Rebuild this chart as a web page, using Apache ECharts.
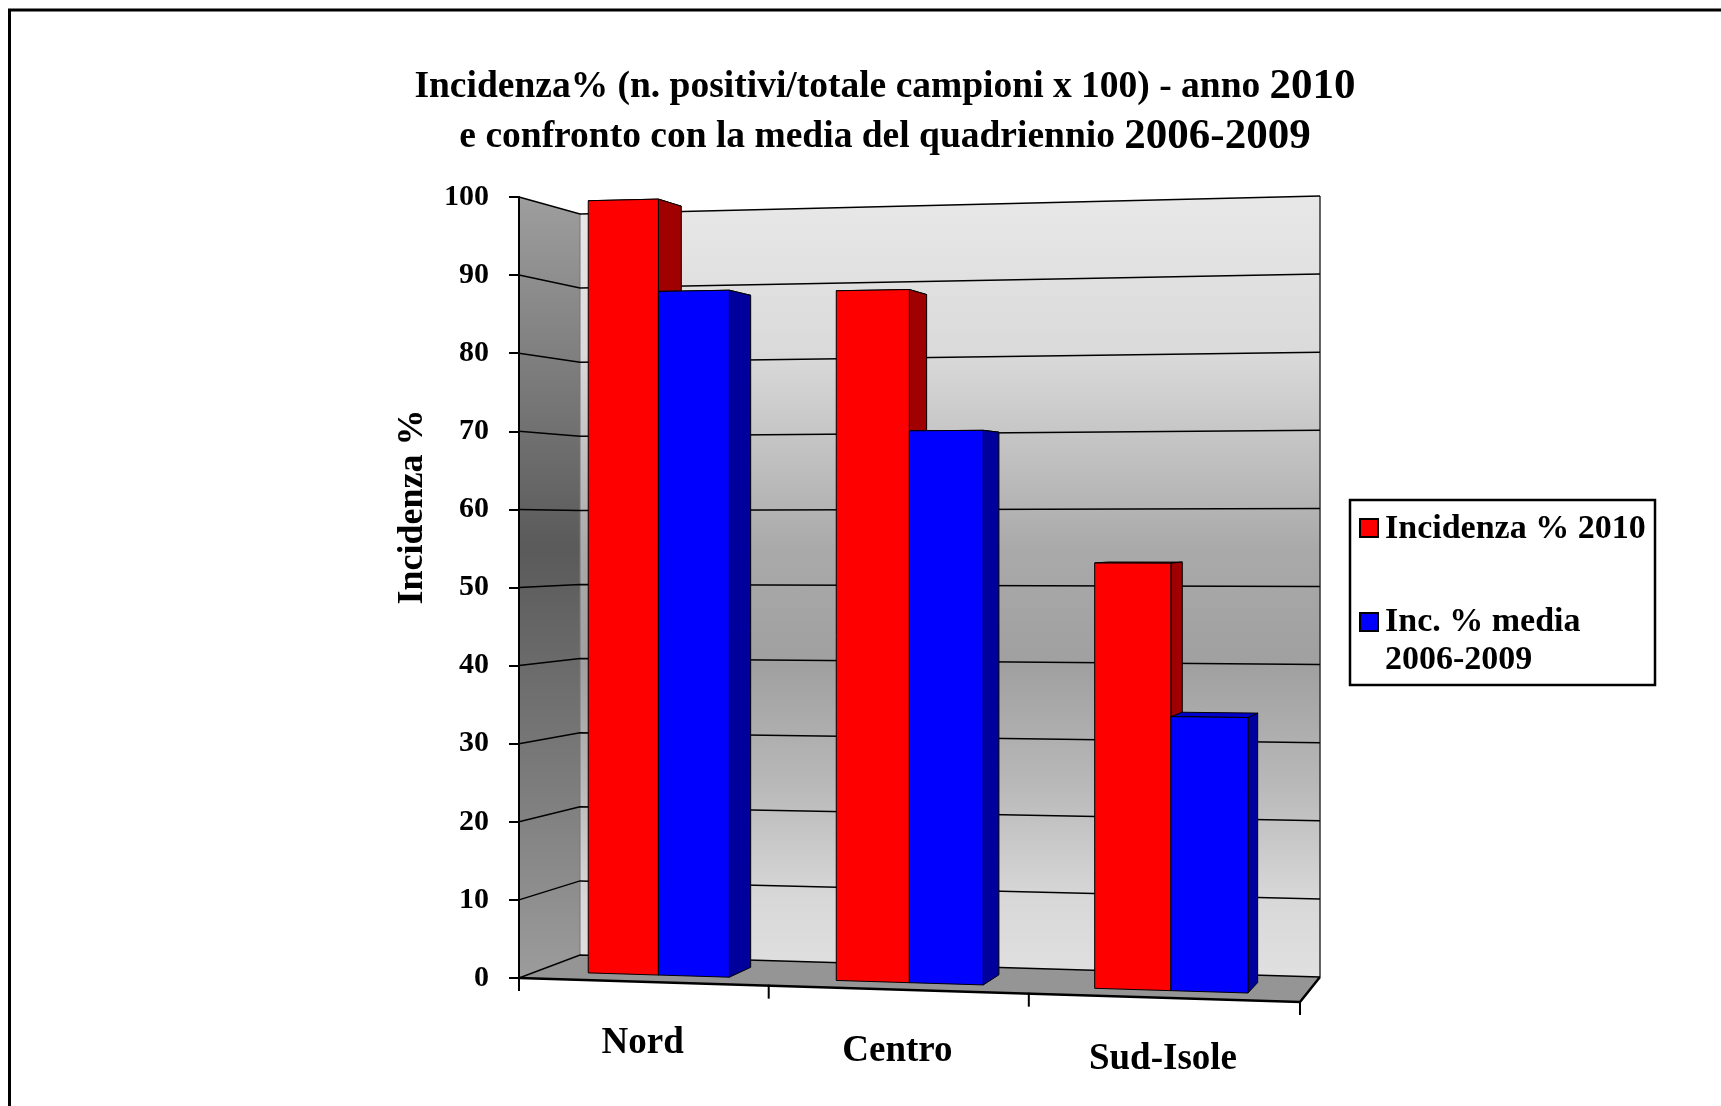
<!DOCTYPE html>
<html><head><meta charset="utf-8">
<script src="https://cdn.jsdelivr.net/npm/echarts@6/dist/echarts.min.js"></script>
<style>html,body{margin:0;padding:0;background:#fff}#c{width:1721px;height:1106px}</style>
</head><body><div id="c"></div>
<script>
// ---- data ----
const categories = ['Nord', 'Centro', 'Sud-Isole'];
const seriesNames = ['Incidenza % 2010', 'Inc. % media\n2006-2009'];
const incidenza2010 = [100, 87.8, 53.2];
const mediaQuadriennio = [88.1, 69.9, 34.1];
const yTicks = [0, 10, 20, 30, 40, 50, 60, 70, 80, 90, 100];
const titleLines = ['Incidenza% (n. positivi/totale campioni x 100) - anno ', '2010', 'e confronto con la media del quadriennio ', '2006-2009'];

// ---- styling ----
const FONT = '"Liberation Serif", "Times New Roman", serif';
const PERSP = { riseB: 24, riseT: 18, dxL: 61, dxR: 20, dbL: 23, dbR: 25, dt: 17, warp: 0.94 };
const BAR_FRAC = 0.287, D0 = 0.29, D1 = 0.71;
const COLORS = [
  { front: '#ff0000', side: '#a00000', top: '#cc0000' },
  { front: '#0000ff', side: '#00009c', top: '#0000cc' }
];

function lerp(a, b, t) { return [a[0] + (b[0] - a[0]) * t, a[1] + (b[1] - a[1]) * t]; }
function projector(G) {
  const L = G.x, R = G.x + G.width, T = G.y, B = G.y + G.height;
  const FLB = [L, B], FLT = [L, T], FRB = [R, B + PERSP.riseB], FRT = [R, T - PERSP.riseT];
  const BLB = [L + PERSP.dxL, B - PERSP.dbL], BLT = [L + PERSP.dxL, T + PERSP.dt];
  const BRB = [R + PERSP.dxR, B + PERSP.riseB - PERSP.dbR], BRT = [R + PERSP.dxR, T - PERSP.riseT + PERSP.dt];
  return function (u, v, d) {
    const a = PERSP.warp; const fu = a * u / (1 + (a - 1) * u);
    const f = lerp(lerp(FLB, FRB, fu), lerp(FLT, FRT, fu), v);
    const b = lerp(lerp(BLB, BRB, fu), lerp(BLT, BRT, fu), v);
    return lerp(f, b, d);
  };
}

const leftGrad = { type: 'linear', x: 0, y: 0, x2: 0, y2: 1, colorStops: [
  { offset: 0, color: '#9e9e9e' }, { offset: 0.45, color: '#5a5a5a' }, { offset: 0.75, color: '#7c7c7c' }, { offset: 1, color: '#9c9c9c' }] };
const backGrad = { type: 'linear', x: 0, y: 0, x2: 0, y2: 1, colorStops: [
  { offset: 0, color: '#e8e8e8' }, { offset: 0.2, color: '#dadada' }, { offset: 0.45, color: '#aaaaaa' },
  { offset: 0.6, color: '#a0a0a0' }, { offset: 0.75, color: '#b8b8b8' }, { offset: 0.9, color: '#d8d8d8' }, { offset: 1, color: '#e0e0e0' }] };

function renderWalls(params, api) {
  const G = params.coordSys; const P = projector(G);
  const vOf = t => (G.y + G.height - api.coord([0, t])[1]) / G.height;
  const ch = [];
  ch.push({ type: 'polygon', shape: { points: [P(0, 0, 0), P(0, 1, 0), P(0, 1, 1), P(0, 0, 1)] }, style: { fill: leftGrad } });
  ch.push({ type: 'polygon', shape: { points: [P(0, 0, 1), P(0, 1, 1), P(1, 1, 1), P(1, 0, 1)] }, style: { fill: backGrad } });
  ch.push({ type: 'polygon', shape: { points: [P(0, 0, 0), P(0, 0, 1), P(1, 0, 1), P(1, 0, 0)] }, style: { fill: '#959595' } });
  ch.push({ type: 'polyline', shape: { points: [P(0, 0, 1), P(0, 1, 1)] }, style: { stroke: '#777', lineWidth: 1, fill: 'none' } });
  ch.push({ type: 'polyline', shape: { points: [P(1, 0, 1), P(1, 1, 1)] }, style: { stroke: '#333', lineWidth: 1.5, fill: 'none' } });
  yTicks.forEach(t => {
    const v = vOf(t);
    ch.push({ type: 'polyline', shape: { points: [P(0, v, 0), P(0, v, 1), P(1, v, 1)] }, style: { stroke: '#000', lineWidth: 1.5, fill: 'none' } });
  });
  ch.push({ type: 'polyline', shape: { points: [P(0, 0, 0), P(1, 0, 0), P(1, 0, 1)] }, style: { stroke: '#000', lineWidth: 2.5, fill: 'none' } });
  const band = api.size([1, 0])[0];
  for (let k = 0; k <= categories.length; k++) {
    const x = api.coord([Math.min(k, categories.length - 1), 0])[0] + (k < categories.length ? -band / 2 : band / 2);
    const u = (x - G.x) / G.width;
    const p = P(u, 0, 0);
    ch.push({ type: 'line', shape: { x1: p[0], y1: p[1] - 1, x2: p[0], y2: p[1] + 13 }, style: { stroke: '#000', lineWidth: 2 } });
  }
  return { type: 'group', children: ch };
}

function makeBarRenderer(sIdx) {
  const col = COLORS[sIdx];
  return function (params, api) {
    const G = params.coordSys; const P = projector(G);
    const i = api.value(0), val = api.value(1);
    const base = api.coord([i, 0]), top = api.coord([i, val]);
    const band = api.size([1, 0])[0];
    const uc = (base[0] - G.x) / G.width, bw = BAR_FRAC * band / G.width;
    const u0 = sIdx === 0 ? uc - bw : uc, u1 = u0 + bw;
    const v = (base[1] - top[1]) / G.height;
    const ln = { stroke: '#000', lineWidth: 1 };
    return { type: 'group', children: [
      { type: 'polygon', shape: { points: [P(u0, v, D0), P(u1, v, D0), P(u1, v, D1), P(u0, v, D1)] }, style: Object.assign({ fill: col.top }, ln) },
      { type: 'polygon', shape: { points: [P(u1, 0, D0), P(u1, 0, D1), P(u1, v, D1), P(u1, v, D0)] }, style: Object.assign({ fill: col.side }, ln) },
      { type: 'polygon', shape: { points: [P(u0, 0, D0), P(u1, 0, D0), P(u1, v, D0), P(u0, v, D0)] }, style: Object.assign({ fill: col.front }, ln) }
    ] };
  };
}

function renderXLabels(params, api) {
  const G = params.coordSys; const P = projector(G);
  const i = api.value(0);
  const c = api.coord([i, 0]);
  const p = P((c[0] - G.x) / G.width, 0, 0);
  return { type: 'text', x: p[0], y: p[1] + 62, style: { text: categories[i], font: 'bold 37px ' + FONT, fill: '#000', align: 'center', verticalAlign: 'middle' } };
}

const chart = echarts.init(document.getElementById('c'), null, { renderer: 'canvas' });
chart.setOption({
  animation: false,
  backgroundColor: '#ffffff',
  title: {
    text: '{a|' + titleLines[0] + '}{big|' + titleLines[1] + '}\n{a|' + titleLines[2] + '}{big|' + titleLines[3] + '}',
    left: 880, top: 57, textAlign: 'center',
    textStyle: {
      fontFamily: FONT, fontWeight: 'bold', fontSize: 37, lineHeight: 50, color: '#000',
      rich: {
        a: { fontFamily: FONT, fontWeight: 'bold', fontSize: 37.5, lineHeight: 50, color: '#000', align: 'center' },
        big: { fontFamily: FONT, fontWeight: 'bold', fontSize: 43, lineHeight: 50, color: '#000', align: 'center' }
      }
    }
  },
  grid: { left: 519, top: 197, width: 781, height: 781, containLabel: false },
  xAxis: { type: 'category', data: categories, show: false },
  yAxis: {
    type: 'value', min: 0, max: 100, interval: 10, z: 10,
    axisLine: { show: true, lineStyle: { color: '#000', width: 2 } },
    axisTick: { show: true, inside: false, length: 10, lineStyle: { color: '#000', width: 2 } },
    axisLabel: { color: '#000', fontFamily: FONT, fontWeight: 'bold', fontSize: 30, margin: 30 },
    splitLine: { show: false }
  },
  series: [
    { type: 'custom', name: 'walls', silent: true, z: 1, renderItem: renderWalls, data: [[0, 0]], encode: { x: 0, y: 1 } },
    { type: 'custom', name: seriesNames[0], z: 3, renderItem: makeBarRenderer(0), data: incidenza2010.map((v, i) => [i, v]), encode: { x: 0, y: 1 } },
    { type: 'custom', name: seriesNames[1].replace('\n', ' '), z: 3, renderItem: makeBarRenderer(1), data: mediaQuadriennio.map((v, i) => [i, v]), encode: { x: 0, y: 1 } },
    { type: 'custom', name: 'xlabels', silent: true, z: 4, renderItem: renderXLabels, data: categories.map((c, i) => [i, 0]), encode: { x: 0, y: 1 } }
  ],
  graphic: [
    { type: 'line', shape: { x1: 8, y1: 10, x2: 1721, y2: 10 }, style: { stroke: '#000', lineWidth: 3 } },
    { type: 'line', shape: { x1: 9.5, y1: 9, x2: 9.5, y2: 1106 }, style: { stroke: '#000', lineWidth: 3 } },
    { type: 'text', x: 413, y: 507, rotation: Math.PI / 2, style: { text: 'Incidenza %', font: 'bold 36px ' + FONT, fill: '#000', align: 'center', verticalAlign: 'middle' } },
    { type: 'rect', shape: { x: 1350, y: 500, width: 305, height: 185 }, style: { fill: '#fff', stroke: '#000', lineWidth: 2.5 } },
    { type: 'rect', shape: { x: 1360, y: 519, width: 18, height: 18 }, style: { fill: COLORS[0].front, stroke: '#000', lineWidth: 2 } },
    { type: 'text', x: 1385, y: 529, style: { text: seriesNames[0], font: 'bold 34px ' + FONT, fill: '#000', verticalAlign: 'middle' } },
    { type: 'rect', shape: { x: 1360, y: 613, width: 18, height: 18 }, style: { fill: COLORS[1].front, stroke: '#000', lineWidth: 2 } },
    { type: 'text', x: 1385, y: 603, style: { text: seriesNames[1], font: 'bold 34px ' + FONT, fill: '#000', lineHeight: 38, verticalAlign: 'top' } }
  ]
});
</script>
</body></html>
